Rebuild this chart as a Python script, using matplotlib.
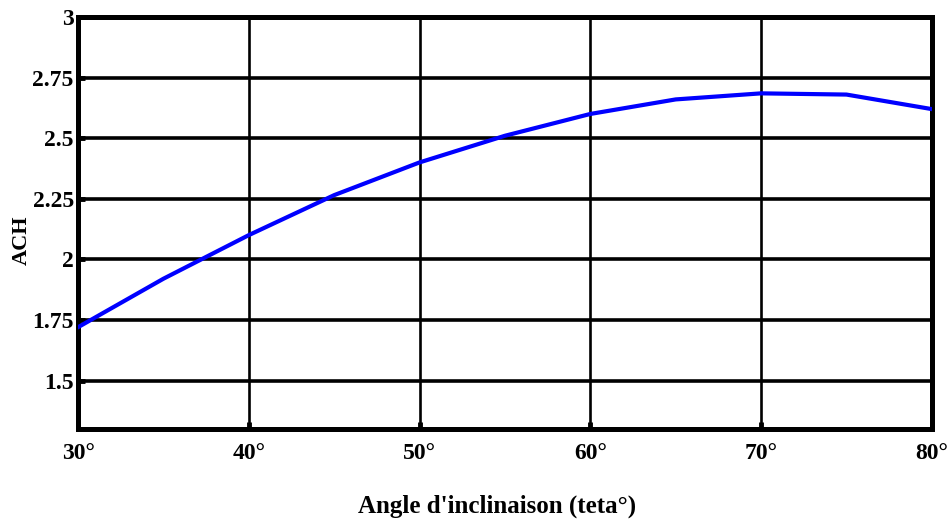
import matplotlib
matplotlib.use("Agg")
import matplotlib.pyplot as plt

# Angle d'inclinaison (degrés) et ACH correspondant
angles = [30, 35, 40, 45, 50, 55, 60, 65, 70, 75, 80]
ach = [1.72, 1.92, 2.10, 2.265, 2.40, 2.51, 2.60, 2.66, 2.685, 2.68, 2.62]

xticks = [30, 40, 50, 60, 70, 80]
xtick_labels = ["30°", "40°", "50°", "60°", "70°", "80°"]
yticks = [1.5, 1.75, 2, 2.25, 2.5, 2.75, 3]
ytick_labels = ["1.5", "1.75", "2", "2.25", "2.5", "2.75", "3"]

plt.rcParams["font.family"] = ["Liberation Serif", "DejaVu Serif"]
plt.rcParams["font.weight"] = "bold"

fig = plt.figure(figsize=(9.47, 5.27), dpi=100)
ax = fig.add_axes([0.0824, 0.186, 0.9016, 0.7817])

# grille épaisse noire
for y in yticks[:-1]:
    ax.axhline(y, color="black", lw=2.6, zorder=1)
for x in xticks[1:-1]:
    ax.axvline(x, color="black", lw=1.9, zorder=1)

ax.plot(angles, ach, color="#0000ff", lw=3.0, zorder=3)

ax.set_xlim(30, 80)
ax.set_ylim(1.3, 3)

ax.set_xticks(xticks)
ax.set_xticklabels(xtick_labels)
ax.set_yticks(yticks)
ax.set_yticklabels(ytick_labels)
ax.tick_params(axis="both", direction="in", length=5, width=3.5,
               labelsize=17, colors="black")
ax.tick_params(axis="x", pad=10)
ax.tick_params(axis="y", pad=3)

for sp in ax.spines.values():
    sp.set_linewidth(3.6)
    sp.set_color("black")

ax.set_xlabel("Angle d'inclinaison (teta°)", fontsize=18, fontweight="bold")
ax.xaxis.set_label_coords(0.4906, -0.187)
ax.xaxis.label.set_va("center")
ax.set_ylabel("ACH", fontsize=16, fontweight="bold")
ax.yaxis.set_label_coords(-0.0656, 0.459)
ax.yaxis.label.set_va("center")

fig.savefig("out.png", dpi=100)
